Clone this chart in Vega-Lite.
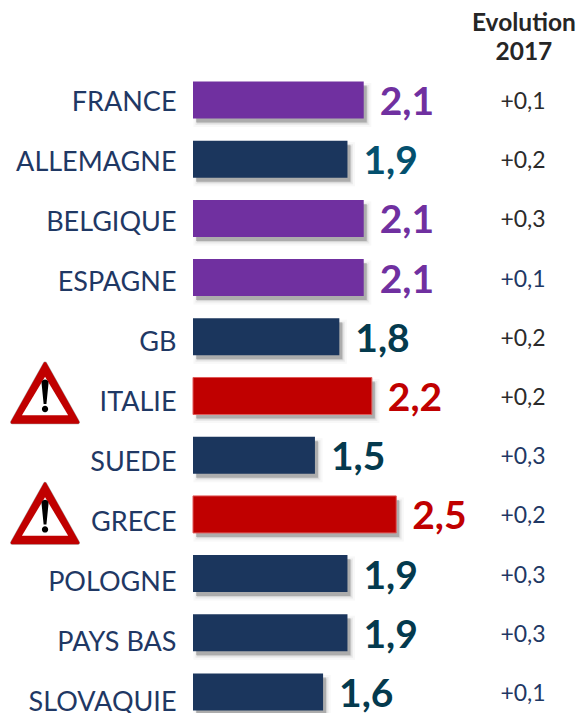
{
"$schema":"https://vega.github.io/schema/vega-lite/v6.json",
"width":386,"height":713,
"autosize":{"type":"none"},
"padding":{"left":193,"right":0,"top":0,"bottom":0},
"background":"white",
"config":{"view":{"stroke":null},"text":{"font":"Lato"}},
"data":{"values":[
{"pays":"FRANCE","taux":2.1,"label":"2,1","evo":"+0,1","niveau":"moyen","teinte":"violet","alerte":false,"evoTeinte":"gris"},
{"pays":"ALLEMAGNE","taux":1.9,"label":"1,9","evo":"+0,2","niveau":"bas","teinte":"bleu","alerte":false,"evoTeinte":"gris"},
{"pays":"BELGIQUE","taux":2.1,"label":"2,1","evo":"+0,3","niveau":"moyen","teinte":"violet","alerte":false,"evoTeinte":"gris"},
{"pays":"ESPAGNE","taux":2.1,"label":"2,1","evo":"+0,1","niveau":"moyen","teinte":"violet","alerte":false,"evoTeinte":"marine"},
{"pays":"GB","taux":1.8,"label":"1,8","evo":"+0,2","niveau":"bas","teinte":"sombre","alerte":false,"evoTeinte":"gris"},
{"pays":"ITALIE","taux":2.2,"label":"2,2","evo":"+0,2","niveau":"haut","teinte":"rouge","alerte":true,"evoTeinte":"gris"},
{"pays":"SUEDE","taux":1.5,"label":"1,5","evo":"+0,3","niveau":"bas","teinte":"sombre","alerte":false,"evoTeinte":"marine"},
{"pays":"GRECE","taux":2.5,"label":"2,5","evo":"+0,2","niveau":"haut","teinte":"rouge","alerte":true,"evoTeinte":"marine"},
{"pays":"POLOGNE","taux":1.9,"label":"1,9","evo":"+0,3","niveau":"bas","teinte":"sombre","alerte":false,"evoTeinte":"marine"},
{"pays":"PAYS BAS","taux":1.9,"label":"1,9","evo":"+0,3","niveau":"bas","teinte":"sombre","alerte":false,"evoTeinte":"marine"},
{"pays":"SLOVAQUIE","taux":1.6,"label":"1,6","evo":"+0,1","niveau":"bas","teinte":"sombre","alerte":false,"evoTeinte":"marine"}
]},
"encoding":{
"y":{"field":"pays","type":"nominal","sort":null,"title":null,
"scale":{"domain":[" ","FRANCE","ALLEMAGNE","BELGIQUE","ESPAGNE","GB","ITALIE","SUEDE","GRECE","POLOGNE","PAYS BAS","SLOVAQUIE"],"paddingInner":0.375,"paddingOuter":0.209,"align":0.9},
"axis":{"domain":false,"ticks":false,"labelFont":"Lato","labelFontSize":27,"labelColor":"#1F3864","labelPadding":17,"labelLimit":190,"labelBaseline":"middle","grid":false,
"labelOffset":{"expr":"3+0.8*indexof(['FRANCE','ALLEMAGNE','BELGIQUE','ESPAGNE','GB','ITALIE','SUEDE','GRECE','POLOGNE','PAYS BAS','SLOVAQUIE'],datum.value)"}}}
},
"layer":[
{"mark":{"type":"bar","color":"#000000","opacity":0.05,"xOffset":4,"yOffset":5,"stroke":"#000000","strokeWidth":7,"strokeOpacity":0.5},
 "encoding":{"x":{"field":"taux","type":"quantitative","title":null,"scale":{"domain":[0,4.748],"nice":false},"axis":null}}},
{"mark":{"type":"bar","color":"#000000","opacity":0.1,"xOffset":4,"yOffset":5,"stroke":"#000000","strokeWidth":3,"strokeOpacity":0.5},
 "encoding":{"x":{"field":"taux","type":"quantitative"}}},
{"mark":{"type":"bar","color":"#000000","opacity":0.2,"xOffset":3,"yOffset":4},
 "encoding":{"x":{"field":"taux","type":"quantitative"}}},
{"mark":{"type":"bar","strokeWidth":1},
 "encoding":{"x":{"field":"taux","type":"quantitative"},
  "color":{"field":"niveau","type":"nominal","legend":null,"scale":{"domain":["moyen","bas","haut"],"range":["#7030A0","#1B365D","#C00000"]}},
  "stroke":{"field":"niveau","type":"nominal","legend":null,"scale":{"domain":["moyen","bas","haut"],"range":["transparent","transparent","#E05A5A"]}}}},
{"mark":{"type":"text","align":"left","baseline":"middle","dx":16,"dy":3,"font":"Lato","fontWeight":"bold","fontSize":39},
 "encoding":{"x":{"field":"taux","type":"quantitative"},"text":{"field":"label"},
  "color":{"field":"teinte","type":"nominal","legend":null,"scale":{"domain":["violet","bleu","sombre","rouge"],"range":["#7030A0","#04506E","#043A4E","#C00000"]}}}},
{"mark":{"type":"text","align":"center","baseline":"middle","dy":2,"font":"Lato","fontSize":23},
 "encoding":{"x":{"datum":4.06,"type":"quantitative"},"text":{"field":"evo"},
  "color":{"field":"evoTeinte","type":"nominal","legend":null,"scale":{"domain":["gris","marine"],"range":["#2B2B2B","#1F3864"]}}}},
{"data":{"values":[{"pays":" ","titre":["Evolution","2017"]}]},
 "mark":{"type":"text","align":"center","baseline":"middle","dy":-17,"font":"Lato","fontWeight":"bold","fontSize":24.5,"lineHeight":29,"color":"#262626"},
 "encoding":{"x":{"datum":4.07,"type":"quantitative"},"text":{"field":"titre"}}},
{"transform":[{"filter":"datum.alerte"}],
 "mark":{"type":"point","filled":true,"opacity":1,"size":19600,"color":"#BBBBBB","stroke":"#AAAAAA","strokeWidth":4,"strokeJoin":"round","shape":"M0,-0.45L0.47,0.39L-0.47,0.39Z","yOffset":{"expr":"datum.pays==='ITALIE'?-1:1"}},
 "encoding":{"x":{"datum":-1.82,"type":"quantitative"}}},
{"transform":[{"filter":"datum.alerte"}],
 "mark":{"type":"point","filled":true,"opacity":1,"size":19600,"color":"#C00000","stroke":"#C00000","strokeWidth":3,"strokeJoin":"round","shape":"M0,-0.45L0.47,0.39L-0.47,0.39Z","yOffset":{"expr":"datum.pays==='ITALIE'?-1:1"}},
 "encoding":{"x":{"datum":-1.82,"type":"quantitative"}}},
{"transform":[{"filter":"datum.alerte"}],
 "mark":{"type":"point","filled":true,"opacity":1,"size":19600,"color":"#FFFFFF","strokeWidth":0,"shape":"M0,-0.26L0.33,0.29L-0.33,0.29Z","yOffset":{"expr":"datum.pays==='ITALIE'?-1:1"}},
 "encoding":{"x":{"datum":-1.82,"type":"quantitative"}}},
{"transform":[{"filter":"datum.alerte"}],
 "mark":{"type":"point","filled":true,"opacity":1,"size":19600,"color":"#000000","strokeWidth":0,"shape":"M-0.05,-0.17C-0.05,-0.24 0.05,-0.24 0.05,-0.17L0.02,0.13L-0.02,0.13ZM0.045,0.2A0.045,0.045 0 1 1 -0.045,0.2A0.045,0.045 0 1 1 0.045,0.2Z","yOffset":{"expr":"datum.pays==='ITALIE'?-1:1"}},
 "encoding":{"x":{"datum":-1.82,"type":"quantitative"}}}
],
"resolve":{"scale":{"color":"independent"}}
}
